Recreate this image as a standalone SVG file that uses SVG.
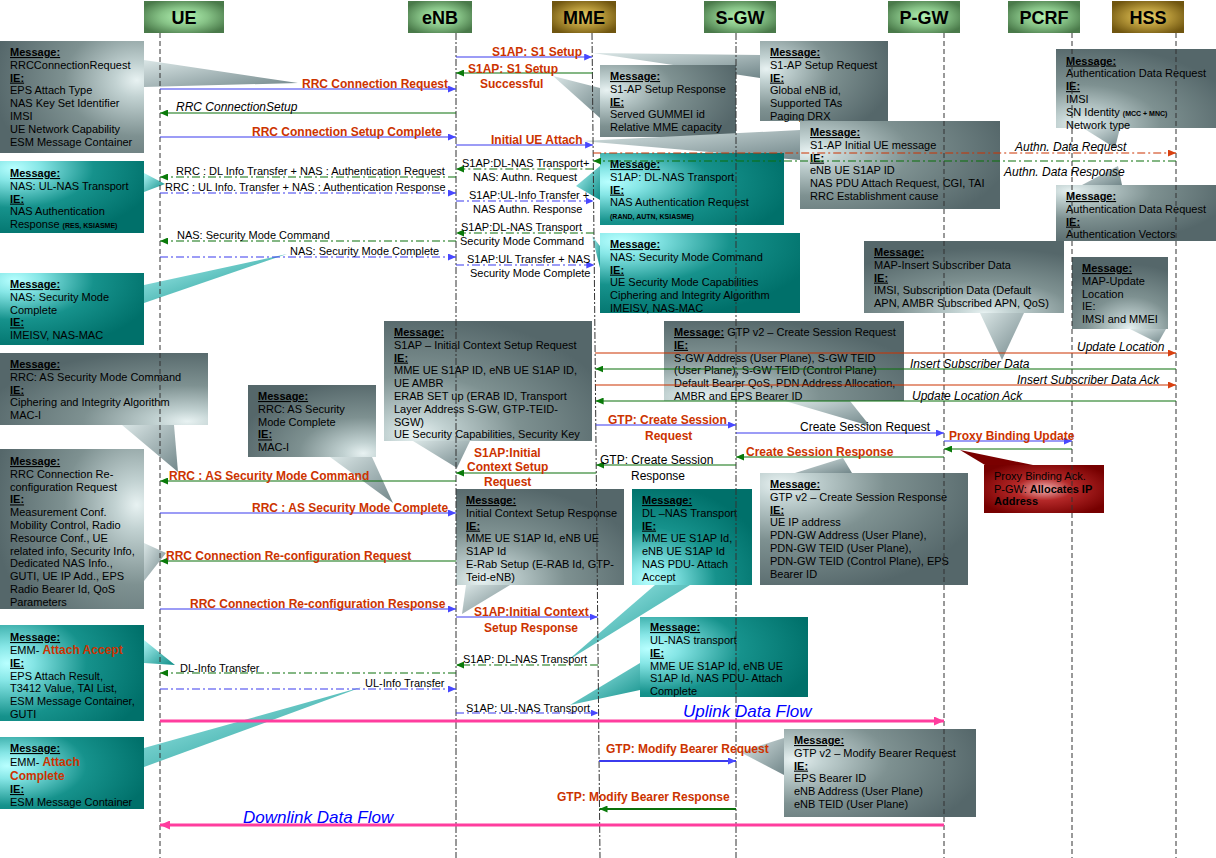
<svg xmlns="http://www.w3.org/2000/svg" width="1216" height="858" viewBox="0 0 1216 858">
<defs>
<style>
text{font-family:"Liberation Sans",Arial,Helvetica,sans-serif}
.hdt{font-size:18px;font-weight:bold;text-anchor:middle;fill:#000}
.nt{font-size:11px;fill:#000}
.hd{font-weight:bold;text-decoration:underline}
.sm{font-size:7px;font-weight:bold}
.rdn{font-size:12px;font-weight:bold;fill:#cc3300}
.lb{font-size:11px;fill:#000}
.l12{font-size:12px;fill:#000}
.it{font-size:12px;font-style:italic;fill:#000}
.rd{font-size:12px;font-weight:bold;fill:#cc3300}
.fl{font-size:17px;font-style:italic;fill:#0000ff}
.life{stroke:#333;stroke-width:1;fill:none}
.ld{stroke-dasharray:5 3}
.ldd{stroke-dasharray:7 2 2 2}
.c{fill:none;stroke-width:1.2}
.b{stroke:#3b3bee}
.g{stroke:#0a700a}
.o{stroke:#cc3300}
.dd{stroke-dasharray:8 3 2 3}
.pk{stroke:#ff3d9e;stroke-width:3}
.w2{stroke-width:2}
.pg{fill:url(#pg)}
.pt{fill:url(#pt)}
</style>
<linearGradient id="greyS"><stop offset="0" stop-color="#e8f2f2"/><stop offset="0.15" stop-color="#c2d2d2"/><stop offset="0.5" stop-color="#7e9191"/><stop offset="1" stop-color="#55676a"/></linearGradient>
<linearGradient id="tealS"><stop offset="0" stop-color="#b8ffff"/><stop offset="0.18" stop-color="#86e6e6"/><stop offset="0.55" stop-color="#16928c"/><stop offset="1" stop-color="#00706a"/></linearGradient>
<radialGradient id="gL" href="#greyS" cx="0.05" cy="0.35" r="1"/>
<radialGradient id="gR" href="#greyS" cx="0.95" cy="0.35" r="1"/>
<radialGradient id="gTL" href="#greyS" cx="0.1" cy="0.1" r="1"/>
<radialGradient id="gBL" href="#greyS" cx="0.15" cy="0.95" r="1"/>
<radialGradient id="gBR" href="#greyS" cx="0.9" cy="0.95" r="1"/>
<radialGradient id="gB" href="#greyS" cx="0.6" cy="1" r="0.9"/>
<radialGradient id="tL" href="#tealS" cx="0.05" cy="0.4" r="1"/>
<radialGradient id="tTL" href="#tealS" cx="0.1" cy="0.1" r="1"/>
<radialGradient id="tBL" href="#tealS" cx="0.15" cy="0.95" r="1"/>
<linearGradient id="pg" x1="0" y1="0" x2="1" y2="1"><stop offset="0" stop-color="#dae6e6"/><stop offset="1" stop-color="#72878a"/></linearGradient>
<linearGradient id="pt" x1="0" y1="0" x2="1" y2="1"><stop offset="0" stop-color="#b0f6f6"/><stop offset="1" stop-color="#0c8c86"/></linearGradient>
<radialGradient id="hg" cx="0.5" cy="0.5" r="0.6"><stop offset="0" stop-color="#b4f4b4"/><stop offset="0.5" stop-color="#86c286"/><stop offset="1" stop-color="#4a7a4a"/></radialGradient>
<radialGradient id="hy" cx="0.5" cy="0.5" r="0.6"><stop offset="0" stop-color="#ecd46a"/><stop offset="0.5" stop-color="#b49638"/><stop offset="1" stop-color="#705610"/></radialGradient>
<radialGradient id="rg" cx="0.5" cy="0.5" r="0.6"><stop offset="0" stop-color="#f2b4b4"/><stop offset="0.4" stop-color="#b42828"/><stop offset="1" stop-color="#760000"/></radialGradient>
<marker id="mb" viewBox="0 0 8 7" refX="8" refY="3.5" markerWidth="8" markerHeight="7" markerUnits="userSpaceOnUse" orient="auto"><path d="M0,0L8,3.5L0,7z" fill="#4848ff"/></marker>
<marker id="mg" viewBox="0 0 8 7" refX="8" refY="3.5" markerWidth="8" markerHeight="7" markerUnits="userSpaceOnUse" orient="auto"><path d="M0,0L8,3.5L0,7z" fill="#0a7a0a"/></marker>
<marker id="mo" viewBox="0 0 8 7" refX="8" refY="3.5" markerWidth="8" markerHeight="7" markerUnits="userSpaceOnUse" orient="auto"><path d="M0,0L8,3.5L0,7z" fill="#d84010"/></marker>
<marker id="mp" viewBox="0 0 10 9" refX="10" refY="4.5" markerWidth="10" markerHeight="9" markerUnits="userSpaceOnUse" orient="auto"><path d="M0,0L10,4.5L0,9z" fill="#ff3d9e"/></marker>
</defs>
<rect width="1216" height="858" fill="#fff"/>

<g id="callouts">
<g id="note-rrc-connection-request">
<polygon class="pg" points="144,60 298,83 144,87"/>
<rect x="0" y="41" width="144" height="112" fill="url(#gR)"/>
<text class="nt" x="10" y="56"><tspan class="hd">Message:</tspan><tspan x="10" dy="12.8">RRCConnectionRequest</tspan><tspan x="10" dy="12.8" class="hd">IE:</tspan><tspan x="10" dy="12.8">EPS Attach Type</tspan><tspan x="10" dy="12.8">NAS Key Set Identifier</tspan><tspan x="10" dy="12.8">IMSI</tspan><tspan x="10" dy="12.8">UE Network Capability</tspan><tspan x="10" dy="12.8">ESM Message Container</tspan></text>
</g>
<g id="note-ul-nas-transport">
<polygon class="pt" points="144,173 165,184 144,192"/>
<rect x="0" y="161" width="144" height="72" fill="url(#tTL)"/>
<text class="nt" x="10" y="177"><tspan class="hd">Message:</tspan><tspan x="10" dy="12.8">NAS: UL-NAS Transport</tspan><tspan x="10" dy="12.8" class="hd">IE:</tspan><tspan x="10" dy="12.8">NAS Authentication</tspan><tspan x="10" dy="12.8">Response </tspan><tspan class="sm">(RES, KSIASME)</tspan></text>
</g>
<g id="note-nas-smc-complete">
<polygon class="pt" points="144,285 287,254 144,303"/>
<rect x="0" y="273" width="144" height="72" fill="url(#tTL)"/>
<text class="nt" x="10" y="288"><tspan class="hd">Message:</tspan><tspan x="10" dy="12.8">NAS: Security Mode</tspan><tspan x="10" dy="12.8">Complete</tspan><tspan x="10" dy="12.8" class="hd">IE:</tspan><tspan x="10" dy="12.8">IMEISV, NAS-MAC</tspan></text>
</g>
<g id="note-rrc-as-smc">
<polygon class="pg" points="122,425 178,472 174,425"/>
<rect x="0" y="353" width="208" height="72" fill="url(#gBR)"/>
<text class="nt" x="10" y="368"><tspan class="hd">Message:</tspan><tspan x="10" dy="12.8">RRC: AS Security Mode Command</tspan><tspan x="10" dy="12.8" class="hd">IE:</tspan><tspan x="10" dy="12.8">Ciphering and Integrity Algorithm</tspan><tspan x="10" dy="12.8">MAC-I</tspan></text>
</g>
<g id="note-rrc-as-smc-complete">
<polygon class="pg" points="330,457 393,503 372,457"/>
<rect x="248" y="385" width="128" height="72" fill="url(#gBR)"/>
<text class="nt" x="258" y="400"><tspan class="hd">Message:</tspan><tspan x="258" dy="12.8">RRC: AS Security</tspan><tspan x="258" dy="12.8">Mode Complete</tspan><tspan x="258" dy="12.8" class="hd">IE:</tspan><tspan x="258" dy="12.8">MAC-I</tspan></text>
</g>
<g id="note-rrc-reconf-request">
<polygon class="pg" points="144,543 166,553 144,581"/>
<rect x="0" y="449" width="144" height="160" fill="url(#gR)"/>
<text class="nt" x="10" y="465"><tspan class="hd">Message:</tspan><tspan x="10" dy="12.8">RRC Connection Re-</tspan><tspan x="10" dy="12.8">configuration Request</tspan><tspan x="10" dy="12.8" class="hd">IE:</tspan><tspan x="10" dy="12.8">Measurement Conf.</tspan><tspan x="10" dy="12.8">Mobility Control, Radio</tspan><tspan x="10" dy="12.8">Resource Conf., UE</tspan><tspan x="10" dy="12.8">related info, Security Info,</tspan><tspan x="10" dy="12.8">Dedicated NAS Info.,</tspan><tspan x="10" dy="12.8">GUTI, UE IP Add., EPS</tspan><tspan x="10" dy="12.8">Radio Bearer Id, QoS</tspan><tspan x="10" dy="12.8">Parameters</tspan></text>
</g>
<g id="note-attach-accept">
<polygon class="pt" points="144,640 175,665 144,663"/>
<rect x="0" y="625" width="144" height="96" fill="url(#tL)"/>
<text class="nt" x="10" y="641"><tspan class="hd">Message:</tspan><tspan x="10" dy="13">EMM- </tspan><tspan class="rdn">Attach Accept</tspan><tspan x="10" dy="12.8" class="hd">IE:</tspan><tspan x="10" dy="12.8">EPS Attach Result,</tspan><tspan x="10" dy="12.8">T3412 Value, TAI List,</tspan><tspan x="10" dy="12.8">ESM Message Container,</tspan><tspan x="10" dy="12.8">GUTI</tspan></text>
</g>
<g id="note-attach-complete">
<polygon class="pt" points="144,748 362,687 144,767"/>
<rect x="0" y="737" width="144" height="72" fill="url(#tL)"/>
<text class="nt" x="10" y="752"><tspan class="hd">Message:</tspan><tspan x="10" dy="14">EMM- </tspan><tspan class="rdn">Attach</tspan><tspan x="10" dy="14" class="rdn">Complete</tspan><tspan x="10" dy="13" class="hd">IE:</tspan><tspan x="10" dy="13">ESM Message Container</tspan></text>
</g>
<g id="note-s1-setup-request">
<polygon class="pg" points="593,53 760,55 760,78"/>
<rect x="760" y="41" width="128" height="80" fill="url(#gL)"/>
<text class="nt" x="770" y="56"><tspan class="hd">Message:</tspan><tspan x="770" dy="12.8">S1-AP Setup Request</tspan><tspan x="770" dy="12.8" class="hd">IE:</tspan><tspan x="770" dy="12.8">Global eNB id,</tspan><tspan x="770" dy="12.8">Supported TAs</tspan><tspan x="770" dy="12.8">Paging DRX</tspan></text>
</g>
<g id="note-s1-setup-response">
<polygon class="pg" points="553,76 600,88 600,118"/>
<rect x="600" y="65" width="136" height="72" fill="url(#gL)"/>
<text class="nt" x="610" y="80"><tspan class="hd">Message:</tspan><tspan x="610" dy="12.8">S1-AP Setup Response</tspan><tspan x="610" dy="12.8" class="hd">IE:</tspan><tspan x="610" dy="12.8">Served GUMMEI id</tspan><tspan x="610" dy="12.8">Relative MME capacity</tspan></text>
</g>
<g id="note-initial-ue-message">
<polygon class="pg" points="582,141 800,130 800,160"/>
<rect x="800" y="121" width="200" height="88" fill="url(#gL)"/>
<text class="nt" x="810" y="136"><tspan class="hd">Message:</tspan><tspan x="810" dy="12.8">S1-AP Initial UE message</tspan><tspan x="810" dy="12.8" class="hd">IE:</tspan><tspan x="810" dy="12.8">eNB UE S1AP ID</tspan><tspan x="810" dy="12.8">NAS PDU Attach Request, CGI, TAI</tspan><tspan x="810" dy="12.8">RRC Establishment cause</tspan></text>
</g>
<g id="note-auth-data-request">
<polygon class="pg" points="1083,128 1115,148 1120,128"/>
<rect x="1056" y="49" width="160" height="79" fill="url(#gBL)"/>
<text class="nt" x="1066" y="64.5"><tspan class="hd">Message:</tspan><tspan x="1066" dy="12.8">Authentication Data Request</tspan><tspan x="1066" dy="12.8" class="hd">IE:</tspan><tspan x="1066" dy="12.8">IMSI</tspan><tspan x="1066" dy="12.8">SN Identity </tspan><tspan class="sm">(MCC + MNC)</tspan><tspan x="1066" dy="12.8">Network type</tspan></text>
</g>
<g id="note-auth-data-response">
<polygon class="pg" points="1082,185 1118,166 1122,185"/>
<rect x="1056" y="185" width="160" height="56" fill="url(#gTL)"/>
<text class="nt" x="1066" y="200"><tspan class="hd">Message:</tspan><tspan x="1066" dy="12.8">Authentication Data Request</tspan><tspan x="1066" dy="12.8" class="hd">IE:</tspan><tspan x="1066" dy="12.8">Authentication Vectors</tspan></text>
</g>
<g id="note-dl-nas-auth">
<polygon class="pt" points="600,166 576,186 600,200"/>
<rect x="600" y="153" width="184" height="72" fill="url(#tL)"/>
<text class="nt" x="610" y="168"><tspan class="hd">Message:</tspan><tspan x="610" dy="12.8">S1AP: DL-NAS Transport</tspan><tspan x="610" dy="12.8" class="hd">IE:</tspan><tspan x="610" dy="12.8">NAS Authentication Request</tspan><tspan x="610" dy="12.8" class="sm">(RAND, AUTN, KSIASME)</tspan></text>
</g>
<g id="note-nas-smc">
<polygon class="pt" points="592,236 600,246 600,268"/>
<rect x="600" y="233" width="200" height="80" fill="url(#tTL)"/>
<text class="nt" x="610" y="248"><tspan class="hd">Message:</tspan><tspan x="610" dy="12.8">NAS: Security Mode Command</tspan><tspan x="610" dy="12.8" class="hd">IE:</tspan><tspan x="610" dy="12.8">UE Security Mode Capabilities</tspan><tspan x="610" dy="12.8">Ciphering and Integrity Algorithm</tspan><tspan x="610" dy="12.8">IMEISV, NAS-MAC</tspan></text>
</g>
<g id="note-ics-request">
<polygon class="pg" points="413,441 457,468 470,441"/>
<rect x="384" y="321" width="208" height="120" fill="url(#gBL)"/>
<text class="nt" x="394" y="336"><tspan class="hd">Message:</tspan><tspan x="394" dy="12.8">S1AP – Initial Context Setup Request</tspan><tspan x="394" dy="12.8" class="hd">IE:</tspan><tspan x="394" dy="12.8">MME UE S1AP ID, eNB UE S1AP ID,</tspan><tspan x="394" dy="12.8">UE AMBR</tspan><tspan x="394" dy="12.8">ERAB SET up (ERAB ID, Transport</tspan><tspan x="394" dy="12.8">Layer Address S-GW, GTP-TEID-</tspan><tspan x="394" dy="12.8">SGW)</tspan><tspan x="394" dy="12.8">UE Security Capabilities, Security Key</tspan></text>
</g>
<g id="note-create-session-request">
<polygon class="pg" points="785,401 870,426 850,401"/>
<rect x="664" y="321" width="240" height="80" fill="url(#gBL)"/>
<text class="nt" x="674" y="336"><tspan class="hd">Message:</tspan><tspan> GTP v2 – Create Session Request</tspan><tspan x="674" dy="12.8" class="hd">IE:</tspan><tspan x="674" dy="12.8">S-GW Address (User Plane), S-GW TEID</tspan><tspan x="674" dy="12.8">(User Plane), S-GW TEID (Control Plane)</tspan><tspan x="674" dy="12.8">Default Bearer QoS, PDN Address Allocation,</tspan><tspan x="674" dy="12.8">AMBR and EPS Bearer ID</tspan></text>
</g>
<g id="note-insert-subscriber-data">
<polygon class="pg" points="980,313 1002,360 1024,313"/>
<rect x="864" y="241" width="200" height="72" fill="url(#gB)"/>
<text class="nt" x="874" y="256"><tspan class="hd">Message:</tspan><tspan x="874" dy="12.8">MAP-Insert Subscriber Data</tspan><tspan x="874" dy="12.8" class="hd">IE:</tspan><tspan x="874" dy="12.8">IMSI, Subscription Data (Default</tspan><tspan x="874" dy="12.8">APN, AMBR Subscribed APN, QoS)</tspan></text>
</g>
<g id="note-update-location">
<polygon class="pg" points="1130,329 1158,343 1166,329"/>
<rect x="1072" y="257" width="96" height="72" fill="url(#gB)"/>
<text class="nt" x="1082" y="272"><tspan class="hd">Message:</tspan><tspan x="1082" dy="12.8">MAP-Update</tspan><tspan x="1082" dy="12.8">Location</tspan><tspan x="1082" dy="12.8">IE:</tspan><tspan x="1082" dy="12.8">IMSI and MMEI</tspan></text>
</g>
<g id="note-ics-response">
<polygon class="pg" points="466,585 462,614 510,585"/>
<rect x="456" y="489" width="168" height="96" fill="url(#gBL)"/>
<text class="nt" x="466" y="504"><tspan class="hd">Message:</tspan><tspan x="466" dy="12.8">Initial Context Setup Response</tspan><tspan x="466" dy="12.8" class="hd">IE:</tspan><tspan x="466" dy="12.8">MME UE S1AP Id, eNB UE</tspan><tspan x="466" dy="12.8">S1AP Id</tspan><tspan x="466" dy="12.8">E-Rab Setup (E-RAB Id, GTP-</tspan><tspan x="466" dy="12.8">Teid-eNB)</tspan></text>
</g>
<g id="note-dl-nas-attach-accept">
<polygon class="pt" points="655,585 567,661 690,585"/>
<rect x="632" y="489" width="120" height="96" fill="url(#tBL)"/>
<text class="nt" x="642" y="504"><tspan class="hd">Message:</tspan><tspan x="642" dy="12.8">DL –NAS Transport</tspan><tspan x="642" dy="12.8" class="hd">IE:</tspan><tspan x="642" dy="12.8">MME UE S1AP Id,</tspan><tspan x="642" dy="12.8">eNB UE S1AP Id</tspan><tspan x="642" dy="12.8">NAS PDU- Attach</tspan><tspan x="642" dy="12.8">Accept</tspan></text>
</g>
<g id="note-ul-nas-attach-complete">
<polygon class="pt" points="640,663 570,705 640,690"/>
<rect x="640" y="617" width="168" height="80" fill="url(#tL)"/>
<text class="nt" x="650" y="631"><tspan class="hd">Message:</tspan><tspan x="650" dy="13">UL-NAS transport</tspan><tspan x="650" dy="12.8" class="hd">IE:</tspan><tspan x="650" dy="12.8">MME UE S1AP Id, eNB UE</tspan><tspan x="650" dy="12.8">S1AP Id, NAS PDU- Attach</tspan><tspan x="650" dy="12.8">Complete</tspan></text>
</g>
<g id="note-create-session-response">
<polygon class="pg" points="795,473 843,458 852,473"/>
<rect x="760" y="473" width="208" height="112" fill="url(#gTL)"/>
<text class="nt" x="770" y="488"><tspan class="hd">Message:</tspan><tspan x="770" dy="12.8">GTP v2 – Create Session Response</tspan><tspan x="770" dy="12.8" class="hd">IE:</tspan><tspan x="770" dy="12.8">UE IP address</tspan><tspan x="770" dy="12.8">PDN-GW Address (User Plane),</tspan><tspan x="770" dy="12.8">PDN-GW TEID (User Plane),</tspan><tspan x="770" dy="12.8">PDN-GW TEID (Control Plane), EPS</tspan><tspan x="770" dy="12.8">Bearer ID</tspan></text>
</g>
<g id="note-modify-bearer-request">
<polygon class="pg" points="740,752 784,738 784,775"/>
<rect x="784" y="729" width="192" height="88" fill="url(#gL)"/>
<text class="nt" x="794" y="744"><tspan class="hd">Message:</tspan><tspan x="794" dy="12.8">GTP v2 – Modify Bearer Request</tspan><tspan x="794" dy="12.8" class="hd">IE:</tspan><tspan x="794" dy="12.8">EPS Bearer ID</tspan><tspan x="794" dy="12.8">eNB Address (User Plane)</tspan><tspan x="794" dy="12.8">eNB TEID (User Plane)</tspan></text>
</g>
<g id="note-proxy-binding-ack">
<polygon points="960,450 985,465 1033,465" fill="#7a0000"/>
<rect x="984" y="465" width="120" height="48" fill="url(#rg)"/>
<text class="nt" x="994" y="480">Proxy Binding Ack.<tspan x="994" dy="12.8">P-GW: </tspan><tspan font-weight="bold">Allocates IP</tspan><tspan x="994" dy="12.4" font-weight="bold">Address</tspan></text>
</g>
</g>

<g id="node-ue"><rect x="144" y="1" width="80" height="32" fill="url(#hg)"/><text class="hdt" x="184" y="24">UE</text></g>
<g id="node-enb"><rect x="408" y="1" width="64" height="32" fill="url(#hg)"/><text class="hdt" x="440" y="24">eNB</text></g>
<g id="node-mme"><rect x="552" y="1" width="64" height="32" fill="url(#hy)"/><text class="hdt" x="584" y="24">MME</text></g>
<g id="node-sgw"><rect x="704" y="1" width="72" height="32" fill="url(#hg)"/><text class="hdt" x="740" y="24">S-GW</text></g>
<g id="node-pgw"><rect x="888" y="1" width="72" height="32" fill="url(#hg)"/><text class="hdt" x="924" y="24">P-GW</text></g>
<g id="node-pcrf"><rect x="1008" y="1" width="72" height="32" fill="url(#hg)"/><text class="hdt" x="1044" y="24">PCRF</text></g>
<g id="node-hss"><rect x="1112" y="1" width="72" height="32" fill="url(#hy)"/><text class="hdt" x="1148" y="24">HSS</text></g>

<g id="lifelines">
<line class="life ld" x1="160" y1="33" x2="160" y2="858"/>
<line class="life ldd" x1="456" y1="33" x2="456" y2="858"/>
<line class="life ldd" x1="592" y1="33" x2="600" y2="858"/>
<line class="life ldd" x1="736" y1="33" x2="736" y2="858"/>
<line class="life ld" x1="944" y1="33" x2="944" y2="858"/>
<line class="life ld" x1="1072" y1="33" x2="1072" y2="858"/>
<line class="life ld" x1="1176" y1="33" x2="1176" y2="858"/>
</g>

<g id="connectors">
<line class="c b" x1="456" y1="57" x2="592.2" y2="57" marker-end="url(#mb)"/>
<line class="c g" x1="592.4" y1="73" x2="456" y2="73" marker-end="url(#mg)"/>
<line class="c b" x1="160" y1="89" x2="456" y2="89" marker-end="url(#mb)"/>
<line class="c g" x1="456" y1="113" x2="160" y2="113" marker-end="url(#mg)"/>
<line class="c b" x1="160" y1="137" x2="456" y2="137" marker-end="url(#mb)"/>
<line class="c b" x1="456" y1="145" x2="593.1" y2="145" marker-end="url(#mb)"/>
<line class="c o dd" x1="593.2" y1="153" x2="1176" y2="153" marker-end="url(#mo)"/>
<line class="c g dd" x1="1176" y1="161" x2="593.2" y2="161" marker-end="url(#mg)"/>
<line class="c g dd" x1="593.3" y1="169" x2="456" y2="169" marker-end="url(#mg)"/>
<line class="c g dd" x1="456" y1="177" x2="160" y2="177" marker-end="url(#mg)"/>
<line class="c b dd" x1="160" y1="193" x2="456" y2="193" marker-end="url(#mb)"/>
<line class="c b dd" x1="456" y1="201" x2="593.6" y2="201" marker-end="url(#mb)"/>
<line class="c g dd" x1="593.9" y1="233" x2="456" y2="233" marker-end="url(#mg)"/>
<line class="c g dd" x1="456" y1="241" x2="160" y2="241" marker-end="url(#mg)"/>
<line class="c b dd" x1="160" y1="257" x2="456" y2="257" marker-end="url(#mb)"/>
<line class="c b dd" x1="456" y1="265" x2="594.3" y2="265" marker-end="url(#mb)"/>
<line class="c o" x1="595.1" y1="353" x2="1176" y2="353" marker-end="url(#mo)"/>
<line class="c g" x1="1176" y1="369" x2="595.3" y2="369" marker-end="url(#mg)"/>
<line class="c o" x1="595.4" y1="385" x2="1176" y2="385" marker-end="url(#mo)"/>
<line class="c g" x1="1176" y1="401" x2="595.6" y2="401" marker-end="url(#mg)"/>
<line class="c b" x1="595.8" y1="425" x2="736" y2="425" marker-end="url(#mb)"/>
<line class="c b" x1="736" y1="433" x2="944" y2="433" marker-end="url(#mb)"/>
<line class="c b" x1="944" y1="441" x2="1072" y2="441" marker-end="url(#mb)"/>
<line class="c g" x1="1072" y1="449" x2="944" y2="449" marker-end="url(#mg)"/>
<line class="c g" x1="944" y1="457" x2="736" y2="457" marker-end="url(#mg)"/>
<line class="c g" x1="736" y1="465" x2="596.2" y2="465" marker-end="url(#mg)"/>
<line class="c g" x1="596.3" y1="473" x2="456" y2="473" marker-end="url(#mg)"/>
<line class="c g" x1="456" y1="481" x2="160" y2="481" marker-end="url(#mg)"/>
<line class="c b" x1="160" y1="513" x2="456" y2="513" marker-end="url(#mb)"/>
<line class="c g" x1="456" y1="561" x2="160" y2="561" marker-end="url(#mg)"/>
<line class="c b" x1="160" y1="609" x2="456" y2="609" marker-end="url(#mb)"/>
<line class="c b" x1="456" y1="617" x2="597.7" y2="617" marker-end="url(#mb)"/>
<line class="c g dd" x1="598.1" y1="665" x2="456" y2="665" marker-end="url(#mg)"/>
<line class="c g dd" x1="456" y1="673" x2="160" y2="673" marker-end="url(#mg)"/>
<line class="c b dd" x1="160" y1="689" x2="456" y2="689" marker-end="url(#mb)"/>
<line class="c b dd" x1="456" y1="713" x2="598.6" y2="713" marker-end="url(#mb)"/>
<line class="c pk" x1="160" y1="721" x2="944" y2="721" marker-end="url(#mp)"/>
<line class="c b w2" x1="599.1" y1="761" x2="736" y2="761" marker-end="url(#mb)"/>
<line class="c g w2" x1="736" y1="809" x2="599.5" y2="809" marker-end="url(#mg)"/>
<line class="c pk" x1="944" y1="825" x2="160" y2="825" marker-end="url(#mp)"/>
</g>

<g id="labels">
<text class="rd" x="492" y="56">S1AP: S1 Setup</text>
<text class="rd" x="468" y="73">S1AP: S1 Setup</text>
<text class="rd" x="480" y="88">Successful</text>
<text class="rd" x="302" y="88">RRC Connection Request</text>
<text class="it" x="176" y="111">RRC ConnectionSetup</text>
<text class="rd" x="252" y="136">RRC Connection Setup Complete</text>
<text class="rd" x="491" y="144">Initial UE Attach</text>
<text class="it" x="1015" y="151">Authn. Data Request</text>
<text class="it" x="1004" y="176">Authn. Data Response</text>
<text class="lb" x="462" y="167">S1AP:DL-NAS Transport+</text>
<text class="lb" x="473" y="181">NAS: Authn. Request</text>
<text class="lb" x="176" y="175">RRC : DL Info Transfer + NAS : Authentication Request</text>
<text class="lb" x="165" y="191">RRC : UL Info. Transfer + NAS : Authentication Response</text>
<text class="lb" x="469" y="199">S1AP:UL-Info Transfer +</text>
<text class="lb" x="473" y="213">NAS Authn. Response</text>
<text class="lb" x="461" y="231">S1AP:DL-NAS Transport</text>
<text class="lb" x="460" y="245">Security Mode Command</text>
<text class="lb" x="177" y="239">NAS: Security Mode Command</text>
<text class="lb" x="290" y="255">NAS: Security Mode Complete</text>
<text class="lb" x="467" y="263">S1AP:UL Transfer + NAS</text>
<text class="lb" x="470" y="277">Security Mode Complete</text>
<text class="it" x="1077" y="351">Update Location</text>
<text class="it" x="910" y="368">Insert Subscriber Data</text>
<text class="it" x="1017" y="384">Insert Subscriber Data Ack</text>
<text class="it" x="912" y="400">Update Location Ack</text>
<text class="rd" x="608" y="424">GTP: Create Session</text>
<text class="rd" x="645" y="440">Request</text>
<text class="l12" x="800" y="431">Create Session Request</text>
<text class="rd" x="949" y="440">Proxy Binding Update</text>
<text class="rd" x="746" y="456">Create Session Response</text>
<text class="l12" x="600" y="464">GTP: Create Session</text>
<text class="l12" x="631" y="480">Response</text>
<text class="rd" x="474" y="457">S1AP:Initial</text>
<text class="rd" x="467" y="471">Context Setup</text>
<text class="rd" x="484" y="486">Request</text>
<text class="rd" x="169" y="480">RRC : AS Security Mode Command</text>
<text class="rd" x="252" y="512">RRC : AS Security Mode Complete</text>
<text class="rd" x="166" y="560">RRC Connection Re-configuration Request</text>
<text class="rd" x="190" y="608">RRC Connection Re-configuration Response</text>
<text class="rd" x="474" y="616">S1AP:Initial Context</text>
<text class="rd" x="484" y="632">Setup Response</text>
<text class="lb" x="463" y="663">S1AP: DL-NAS Transport</text>
<text class="lb" x="180" y="672">DL-Info Transfer</text>
<text class="lb" x="365" y="687">UL-Info Transfer</text>
<text class="lb" x="466" y="712">S1AP: UL-NAS Transport</text>
<text class="fl" x="683" y="717">Uplink Data Flow</text>
<text class="rd" x="606" y="753">GTP: Modify Bearer Request</text>
<text class="rd" x="557" y="801">GTP: Modify Bearer Response</text>
<text class="fl" x="243" y="823">Downlink Data Flow</text>
</g>
</svg>
